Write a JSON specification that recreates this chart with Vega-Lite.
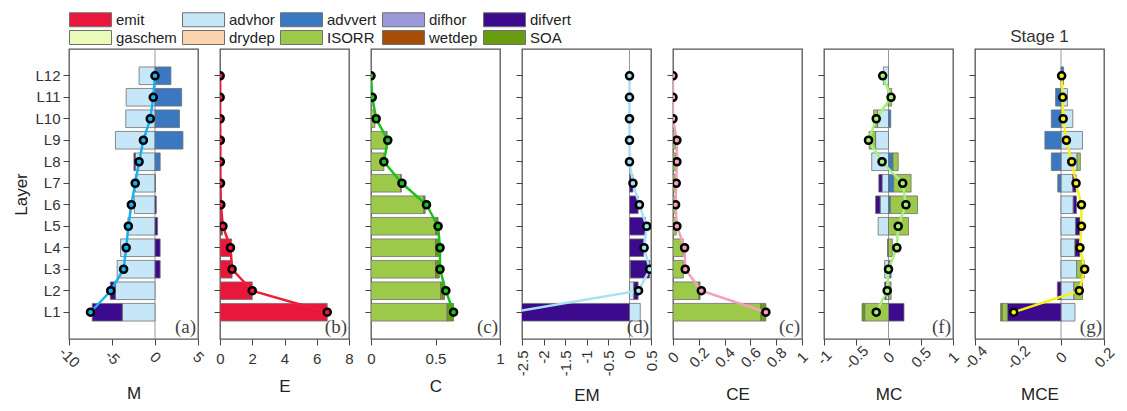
{
"$schema":"https://vega.github.io/schema/vega-lite/v6.json",
"background":"white",
"padding":{"left":12,"top":12,"right":5,"bottom":5},
"spacing":22,
"bounds":"flush",
"resolve":{"scale":{"x":"independent","y":"independent","color":"shared"}},
"config":{
 "font":"Liberation Sans",
 "view":{"stroke":"#555555","strokeWidth":1.3},
 "axis":{"labelFont":"Liberation Sans","labelFontSize":15,"labelColor":"#333333","titleFont":"Liberation Sans","titleFontSize":17,"titleFontWeight":"normal","titleColor":"#222222","tickColor":"#444444","tickSize":6,"domain":false,"grid":false,"titlePadding":12,"labelOverlap":false,"labelFlush":false},
 "legend":{"labelFont":"Liberation Sans","labelFontSize":15,"labelColor":"#222222"}
},
"datasets":{
"bars":[
{"p":"a","L":"L12","c":"advhor","v":-1.85,"o":2},{"p":"a","L":"L12","c":"advvert","v":1.85,"o":3},
{"p":"a","L":"L11","c":"advhor","v":-3.35,"o":2},{"p":"a","L":"L11","c":"advvert","v":3.1,"o":3},
{"p":"a","L":"L10","c":"advhor","v":-3.4,"o":2},{"p":"a","L":"L10","c":"advvert","v":2.85,"o":3},
{"p":"a","L":"L9","c":"advhor","v":-4.6,"o":2},{"p":"a","L":"L9","c":"advvert","v":3.25,"o":3},
{"p":"a","L":"L8","c":"advhor","v":-2.3,"o":2},{"p":"a","L":"L8","c":"advvert","v":0.6,"o":3},{"p":"a","L":"L8","c":"difvert","v":-0.15,"o":5},
{"p":"a","L":"L7","c":"advhor","v":-2.3,"o":2},{"p":"a","L":"L7","c":"advvert","v":0.05,"o":3},
{"p":"a","L":"L6","c":"advhor","v":-2.4,"o":2},{"p":"a","L":"L6","c":"difvert","v":0.15,"o":5},
{"p":"a","L":"L5","c":"advhor","v":-3.15,"o":2},{"p":"a","L":"L5","c":"difvert","v":0.3,"o":5},
{"p":"a","L":"L4","c":"advhor","v":-4.0,"o":2},{"p":"a","L":"L4","c":"difvert","v":0.6,"o":5},
{"p":"a","L":"L3","c":"advhor","v":-4.4,"o":2},{"p":"a","L":"L3","c":"difvert","v":0.6,"o":5},
{"p":"a","L":"L2","c":"advhor","v":-4.6,"o":2},{"p":"a","L":"L2","c":"difvert","v":-0.6,"o":5},
{"p":"a","L":"L1","c":"advhor","v":-3.8,"o":2},{"p":"a","L":"L1","c":"difvert","v":-3.5,"o":5},
{"p":"b","L":"L1","c":"emit","v":6.65,"o":1},{"p":"b","L":"L2","c":"emit","v":2.0,"o":1},{"p":"b","L":"L3","c":"emit","v":0.75,"o":1},{"p":"b","L":"L4","c":"emit","v":0.72,"o":1},{"p":"b","L":"L5","c":"emit","v":0.15,"o":1},{"p":"b","L":"L6","c":"emit","v":0.05,"o":1},{"p":"b","L":"L7","c":"emit","v":0.03,"o":1},{"p":"b","L":"L8","c":"emit","v":0.02,"o":1},{"p":"b","L":"L9","c":"emit","v":0.02,"o":1},{"p":"b","L":"L10","c":"emit","v":0.02,"o":1},{"p":"b","L":"L11","c":"emit","v":0.01,"o":1},{"p":"b","L":"L12","c":"emit","v":0.01,"o":1},
{"p":"c","L":"L12","c":"ISORR","v":0.003,"o":8},
{"p":"c","L":"L11","c":"ISORR","v":0.008,"o":8},
{"p":"c","L":"L10","c":"ISORR","v":0.03,"o":8},
{"p":"c","L":"L9","c":"ISORR","v":0.12,"o":8},{"p":"c","L":"L9","c":"SOA","v":0.005,"o":10},
{"p":"c","L":"L8","c":"ISORR","v":0.1,"o":8},
{"p":"c","L":"L7","c":"ISORR","v":0.23,"o":8},{"p":"c","L":"L7","c":"SOA","v":0.005,"o":10},
{"p":"c","L":"L6","c":"ISORR","v":0.41,"o":8},{"p":"c","L":"L6","c":"SOA","v":0.01,"o":10},
{"p":"c","L":"L5","c":"ISORR","v":0.5,"o":8},{"p":"c","L":"L5","c":"SOA","v":0.02,"o":10},
{"p":"c","L":"L4","c":"ISORR","v":0.5,"o":8},{"p":"c","L":"L4","c":"SOA","v":0.03,"o":10},
{"p":"c","L":"L3","c":"ISORR","v":0.5,"o":8},{"p":"c","L":"L3","c":"SOA","v":0.03,"o":10},
{"p":"c","L":"L2","c":"ISORR","v":0.54,"o":8},{"p":"c","L":"L2","c":"SOA","v":0.03,"o":10},
{"p":"c","L":"L1","c":"ISORR","v":0.59,"o":8},{"p":"c","L":"L1","c":"SOA","v":0.05,"o":10},
{"p":"d","L":"L1","c":"advhor","v":0.25,"o":2},{"p":"d","L":"L1","c":"difvert","v":-3.0,"o":5},
{"p":"d","L":"L2","c":"advhor","v":0.1,"o":2},{"p":"d","L":"L2","c":"difvert","v":0.1,"o":5},
{"p":"d","L":"L3","c":"advhor","v":0.02,"o":2},{"p":"d","L":"L3","c":"difvert","v":0.45,"o":5},
{"p":"d","L":"L4","c":"difvert","v":0.33,"o":5},
{"p":"d","L":"L5","c":"difvert","v":0.37,"o":5},
{"p":"d","L":"L6","c":"difvert","v":0.2,"o":5},
{"p":"d","L":"L7","c":"difvert","v":0.08,"o":5},
{"p":"e","L":"L1","c":"ISORR","v":0.68,"o":8},{"p":"e","L":"L1","c":"SOA","v":0.04,"o":10},
{"p":"e","L":"L2","c":"ISORR","v":0.2,"o":8},{"p":"e","L":"L2","c":"SOA","v":0.01,"o":10},
{"p":"e","L":"L3","c":"ISORR","v":0.08,"o":8},
{"p":"e","L":"L4","c":"ISORR","v":0.08,"o":8},
{"p":"e","L":"L5","c":"ISORR","v":0.025,"o":8},
{"p":"e","L":"L6","c":"ISORR","v":0.02,"o":8},
{"p":"e","L":"L7","c":"ISORR","v":0.02,"o":8},
{"p":"e","L":"L8","c":"ISORR","v":0.02,"o":8},
{"p":"e","L":"L9","c":"ISORR","v":0.02,"o":8},
{"p":"e","L":"L10","c":"ISORR","v":0.003,"o":8},
{"p":"f","L":"L12","c":"advhor","v":-0.08,"o":2},
{"p":"f","L":"L11","c":"advhor","v":-0.01,"o":2},{"p":"f","L":"L11","c":"ISORR","v":0.05,"o":8},
{"p":"f","L":"L10","c":"advhor","v":-0.17,"o":2},{"p":"f","L":"L10","c":"advvert","v":0.035,"o":3},{"p":"f","L":"L10","c":"ISORR","v":-0.06,"o":8},
{"p":"f","L":"L9","c":"advhor","v":-0.2,"o":2},{"p":"f","L":"L9","c":"ISORR","v":-0.1,"o":8},
{"p":"f","L":"L8","c":"advhor","v":-0.26,"o":2},{"p":"f","L":"L8","c":"advvert","v":0.07,"o":3},{"p":"f","L":"L8","c":"ISORR","v":0.08,"o":8},
{"p":"f","L":"L7","c":"advhor","v":-0.1,"o":2},{"p":"f","L":"L7","c":"advvert","v":0.08,"o":3},{"p":"f","L":"L7","c":"difvert","v":-0.05,"o":5},{"p":"f","L":"L7","c":"ISORR","v":0.27,"o":8},
{"p":"f","L":"L6","c":"advhor","v":-0.13,"o":2},{"p":"f","L":"L6","c":"advvert","v":0.03,"o":3},{"p":"f","L":"L6","c":"difvert","v":-0.07,"o":5},{"p":"f","L":"L6","c":"ISORR","v":0.42,"o":8},
{"p":"f","L":"L5","c":"advhor","v":-0.16,"o":2},{"p":"f","L":"L5","c":"ISORR","v":0.31,"o":8},
{"p":"f","L":"L4","c":"difvert","v":-0.015,"o":5},{"p":"f","L":"L4","c":"ISORR","v":0.06,"o":8},
{"p":"f","L":"L3","c":"advhor","v":-0.06,"o":2},{"p":"f","L":"L3","c":"advvert","v":0.04,"o":3},
{"p":"f","L":"L2","c":"advhor","v":-0.04,"o":2},{"p":"f","L":"L2","c":"difvert","v":-0.02,"o":5},{"p":"f","L":"L2","c":"ISORR","v":0.04,"o":8},
{"p":"f","L":"L1","c":"difvert","v":0.24,"o":5},{"p":"f","L":"L1","c":"ISORR","v":-0.37,"o":8},{"p":"f","L":"L1","c":"SOA","v":-0.04,"o":10},
{"p":"g","L":"L12","c":"advvert","v":0.012,"o":3},
{"p":"g","L":"L11","c":"advhor","v":0.03,"o":2},{"p":"g","L":"L11","c":"advvert","v":-0.025,"o":3},
{"p":"g","L":"L10","c":"advhor","v":0.055,"o":2},{"p":"g","L":"L10","c":"advvert","v":-0.045,"o":3},
{"p":"g","L":"L9","c":"advhor","v":0.1,"o":2},{"p":"g","L":"L9","c":"advvert","v":-0.075,"o":3},
{"p":"g","L":"L8","c":"advhor","v":0.075,"o":2},{"p":"g","L":"L8","c":"advvert","v":-0.045,"o":3},{"p":"g","L":"L8","c":"ISORR","v":0.015,"o":8},
{"p":"g","L":"L7","c":"advhor","v":0.055,"o":2},{"p":"g","L":"L7","c":"advvert","v":-0.015,"o":3},{"p":"g","L":"L7","c":"difvert","v":0.015,"o":5},
{"p":"g","L":"L6","c":"advhor","v":0.057,"o":2},{"p":"g","L":"L6","c":"difvert","v":0.015,"o":5},
{"p":"g","L":"L5","c":"advhor","v":0.068,"o":2},{"p":"g","L":"L5","c":"difvert","v":0.02,"o":5},
{"p":"g","L":"L4","c":"advhor","v":0.065,"o":2},{"p":"g","L":"L4","c":"difvert","v":0.023,"o":5},
{"p":"g","L":"L3","c":"advhor","v":0.073,"o":2},{"p":"g","L":"L3","c":"ISORR","v":0.03,"o":8},{"p":"g","L":"L3","c":"SOA","v":0.005,"o":10},
{"p":"g","L":"L2","c":"advhor","v":0.06,"o":2},{"p":"g","L":"L2","c":"difvert","v":-0.017,"o":5},{"p":"g","L":"L2","c":"ISORR","v":0.04,"o":8},
{"p":"g","L":"L1","c":"advhor","v":0.065,"o":2},{"p":"g","L":"L1","c":"difvert","v":-0.25,"o":5},{"p":"g","L":"L1","c":"ISORR","v":-0.023,"o":8},{"p":"g","L":"L1","c":"SOA","v":-0.008,"o":10}
],
"tot":[
{"p":"a","L":"L1","k":1,"v":-7.5},{"p":"a","L":"L2","k":2,"v":-5.15},{"p":"a","L":"L3","k":3,"v":-3.65},{"p":"a","L":"L4","k":4,"v":-3.35},{"p":"a","L":"L5","k":5,"v":-3.1},{"p":"a","L":"L6","k":6,"v":-2.75},{"p":"a","L":"L7","k":7,"v":-2.3},{"p":"a","L":"L8","k":8,"v":-1.85},{"p":"a","L":"L9","k":9,"v":-1.35},{"p":"a","L":"L10","k":10,"v":-0.55},{"p":"a","L":"L11","k":11,"v":-0.2},{"p":"a","L":"L12","k":12,"v":0.0},
{"p":"b","L":"L1","k":1,"v":6.65},{"p":"b","L":"L2","k":2,"v":2.0},{"p":"b","L":"L3","k":3,"v":0.75},{"p":"b","L":"L4","k":4,"v":0.65},{"p":"b","L":"L5","k":5,"v":0.18},{"p":"b","L":"L6","k":6,"v":0.05},{"p":"b","L":"L7","k":7,"v":0.03},{"p":"b","L":"L8","k":8,"v":0.02},{"p":"b","L":"L9","k":9,"v":0.02},{"p":"b","L":"L10","k":10,"v":0.01},{"p":"b","L":"L11","k":11,"v":0.01},{"p":"b","L":"L12","k":12,"v":0.01},
{"p":"c","L":"L1","k":1,"v":0.64},{"p":"c","L":"L2","k":2,"v":0.58},{"p":"c","L":"L3","k":3,"v":0.535},{"p":"c","L":"L4","k":4,"v":0.535},{"p":"c","L":"L5","k":5,"v":0.52},{"p":"c","L":"L6","k":6,"v":0.43},{"p":"c","L":"L7","k":7,"v":0.24},{"p":"c","L":"L8","k":8,"v":0.1},{"p":"c","L":"L9","k":9,"v":0.13},{"p":"c","L":"L10","k":10,"v":0.04},{"p":"c","L":"L11","k":11,"v":0.01},{"p":"c","L":"L12","k":12,"v":0.0},
{"p":"d","L":"L1","k":1,"v":-2.75},{"p":"d","L":"L2","k":2,"v":0.21},{"p":"d","L":"L3","k":3,"v":0.47},{"p":"d","L":"L4","k":4,"v":0.34},{"p":"d","L":"L5","k":5,"v":0.4},{"p":"d","L":"L6","k":6,"v":0.23},{"p":"d","L":"L7","k":7,"v":0.08},{"p":"d","L":"L8","k":8,"v":0.0},{"p":"d","L":"L9","k":9,"v":0.0},{"p":"d","L":"L10","k":10,"v":0.0},{"p":"d","L":"L11","k":11,"v":0.0},{"p":"d","L":"L12","k":12,"v":0.0},
{"p":"e","L":"L1","k":1,"v":0.72},{"p":"e","L":"L2","k":2,"v":0.22},{"p":"e","L":"L3","k":3,"v":0.095},{"p":"e","L":"L4","k":4,"v":0.09},{"p":"e","L":"L5","k":5,"v":0.03},{"p":"e","L":"L6","k":6,"v":0.02},{"p":"e","L":"L7","k":7,"v":0.025},{"p":"e","L":"L8","k":8,"v":0.03},{"p":"e","L":"L9","k":9,"v":0.03},{"p":"e","L":"L10","k":10,"v":0.0},{"p":"e","L":"L11","k":11,"v":0.0},{"p":"e","L":"L12","k":12,"v":0.0},
{"p":"f","L":"L1","k":1,"v":-0.19},{"p":"f","L":"L2","k":2,"v":-0.02},{"p":"f","L":"L3","k":3,"v":0.0},{"p":"f","L":"L4","k":4,"v":0.13},{"p":"f","L":"L5","k":5,"v":0.15},{"p":"f","L":"L6","k":6,"v":0.27},{"p":"f","L":"L7","k":7,"v":0.22},{"p":"f","L":"L8","k":8,"v":-0.1},{"p":"f","L":"L9","k":9,"v":-0.31},{"p":"f","L":"L10","k":10,"v":-0.19},{"p":"f","L":"L11","k":11,"v":0.04},{"p":"f","L":"L12","k":12,"v":-0.09},
{"p":"g","L":"L1","k":1,"v":-0.22},{"p":"g","L":"L2","k":2,"v":0.085},{"p":"g","L":"L3","k":3,"v":0.11},{"p":"g","L":"L4","k":4,"v":0.088},{"p":"g","L":"L5","k":5,"v":0.095},{"p":"g","L":"L6","k":6,"v":0.095},{"p":"g","L":"L7","k":7,"v":0.07},{"p":"g","L":"L8","k":8,"v":0.05},{"p":"g","L":"L9","k":9,"v":0.025},{"p":"g","L":"L10","k":10,"v":0.01},{"p":"g","L":"L11","k":11,"v":0.008},{"p":"g","L":"L12","k":12,"v":0.003}
]
},
"hconcat":[
{"width":129,"height":290,"layer":[
 {"data":{"values":[{}]},"mark":{"type":"rule","color":"#999999","strokeWidth":1},"encoding":{"x":{"datum":0}}},
 {"data":{"name":"bars"},"transform":[{"filter":"datum.p=='a'"}],"mark":{"type":"bar","stroke":"#707070","strokeWidth":0.8,"clip":true},
  "encoding":{
   "y":{"field":"L","type":"nominal","scale":{"domain":["L12","L11","L10","L9","L8","L7","L6","L5","L4","L3","L2","L1"],"paddingInner":0.18,"paddingOuter":0.835},"axis":{"title":"Layer","labelPadding":3,"titlePadding":4}},
   "x":{"field":"v","type":"quantitative","stack":"zero","scale":{"domain":[-10,5],"nice":false,"zero":false},"axis":{"title":"M","values":[-10,-5,0,5],"tickCount":20,"labelExpr":"''+datum.value","labelOverlap":false,"labelAngle":45,"labelAlign":"center","labelBaseline":"middle","labelPadding":12,"titlePadding":15}},
   "color":{"field":"c","type":"nominal","scale":{"domain":["emit","advhor","advvert","difhor","difvert","gaschem","drydep","ISORR","wetdep","SOA"],"range":["#E8173B","#C5E7F7","#3A78C2","#9A98D8","#3C0A8C","#EAFAB8","#FBD3AC","#9CC94A","#A64E08","#6A9C12"]},
     "legend":{"title":null,"orient":"none","legendX":0,"legendY":-37,"columns":5,"direction":"horizontal","symbolType":"M-3,-1H3V1H-3Z","symbolSize":196,"symbolOffset":14,"symbolStrokeColor":"#777777","symbolStrokeWidth":1,"symbolOpacity":1,"labelOffset":18,"columnPadding":3,"rowPadding":-1,"padding":0,"gridAlign":"each"}},
   "order":{"field":"o","type":"quantitative"}}},
 {"data":{"name":"tot"},"transform":[{"filter":"datum.p=='a'"}],"mark":{"type":"line","color":"#1AB0F0","strokeWidth":2.5,"clip":true},"encoding":{"y":{"field":"L","type":"nominal"},"x":{"field":"v","type":"quantitative"},"order":{"field":"k","type":"quantitative"}}},
 {"data":{"name":"tot"},"transform":[{"filter":"datum.p=='a'"}],"mark":{"type":"point","shape":"circle","filled":true,"fill":"#1AB0F0","stroke":"#000000","strokeWidth":2.5,"size":50,"opacity":1,"clip":true},"encoding":{"y":{"field":"L","type":"nominal"},"x":{"field":"v","type":"quantitative"}}},
 {"data":{"values":[{"t":"(a)"}]},"mark":{"type":"text","font":"Liberation Serif","fontSize":19,"color":"#444444","align":"right","baseline":"bottom","dx":-2,"y":{"expr":"height-2"}},"encoding":{"text":{"field":"t"},"x":{"datum":5}}}
]},
{"width":129,"height":290,"layer":[
 {"data":{"name":"bars"},"transform":[{"filter":"datum.p=='b'"}],"mark":{"type":"bar","stroke":"#707070","strokeWidth":0.8,"clip":true},
  "encoding":{
   "y":{"field":"L","type":"nominal","scale":{"domain":["L12","L11","L10","L9","L8","L7","L6","L5","L4","L3","L2","L1"],"paddingInner":0.18,"paddingOuter":0.835},"axis":{"title":null,"labels":false}},
   "x":{"field":"v","type":"quantitative","stack":"zero","scale":{"domain":[0,8],"nice":false,"zero":false},"axis":{"title":"E","values":[0,2,4,6,8],"tickCount":20,"labelExpr":"''+datum.value","labelOverlap":false,"labelAngle":0,"labelPadding":6}},
   "color":{"field":"c","type":"nominal"},
   "order":{"field":"o","type":"quantitative"}}},
 {"data":{"name":"tot"},"transform":[{"filter":"datum.p=='b'"}],"mark":{"type":"line","color":"#EE1C3C","strokeWidth":2.5,"clip":true},"encoding":{"y":{"field":"L","type":"nominal"},"x":{"field":"v","type":"quantitative"},"order":{"field":"k","type":"quantitative"}}},
 {"data":{"name":"tot"},"transform":[{"filter":"datum.p=='b'"}],"mark":{"type":"point","shape":"circle","filled":true,"fill":"#EE1C3C","stroke":"#000000","strokeWidth":2.5,"size":50,"opacity":1,"clip":true},"encoding":{"y":{"field":"L","type":"nominal"},"x":{"field":"v","type":"quantitative"}}},
 {"data":{"values":[{"t":"(b)"}]},"mark":{"type":"text","font":"Liberation Serif","fontSize":19,"color":"#444444","align":"right","baseline":"bottom","dx":-2,"y":{"expr":"height-2"}},"encoding":{"text":{"field":"t"},"x":{"datum":8}}}
]},
{"width":129,"height":290,"layer":[
 {"data":{"name":"bars"},"transform":[{"filter":"datum.p=='c'"}],"mark":{"type":"bar","stroke":"#707070","strokeWidth":0.8,"clip":true},
  "encoding":{
   "y":{"field":"L","type":"nominal","scale":{"domain":["L12","L11","L10","L9","L8","L7","L6","L5","L4","L3","L2","L1"],"paddingInner":0.18,"paddingOuter":0.835},"axis":{"title":null,"labels":false}},
   "x":{"field":"v","type":"quantitative","stack":"zero","scale":{"domain":[0,1],"nice":false,"zero":false},"axis":{"title":"C","values":[0,0.5,1],"tickCount":20,"labelExpr":"''+datum.value","labelOverlap":false,"labelAngle":0,"labelPadding":6}},
   "color":{"field":"c","type":"nominal"},
   "order":{"field":"o","type":"quantitative"}}},
 {"data":{"name":"tot"},"transform":[{"filter":"datum.p=='c'"}],"mark":{"type":"line","color":"#1EC01E","strokeWidth":2.5,"clip":true},"encoding":{"y":{"field":"L","type":"nominal"},"x":{"field":"v","type":"quantitative"},"order":{"field":"k","type":"quantitative"}}},
 {"data":{"name":"tot"},"transform":[{"filter":"datum.p=='c'"}],"mark":{"type":"point","shape":"circle","filled":true,"fill":"#1EC01E","stroke":"#000000","strokeWidth":2.5,"size":50,"opacity":1,"clip":true},"encoding":{"y":{"field":"L","type":"nominal"},"x":{"field":"v","type":"quantitative"}}},
 {"data":{"values":[{"t":"(c)"}]},"mark":{"type":"text","font":"Liberation Serif","fontSize":19,"color":"#444444","align":"right","baseline":"bottom","dx":-2,"y":{"expr":"height-2"}},"encoding":{"text":{"field":"t"},"x":{"datum":1}}}
]},
{"width":129,"height":290,"layer":[
 {"data":{"values":[{}]},"mark":{"type":"rule","color":"#999999","strokeWidth":1},"encoding":{"x":{"datum":0}}},
 {"data":{"name":"bars"},"transform":[{"filter":"datum.p=='d'"}],"mark":{"type":"bar","stroke":"#707070","strokeWidth":0.8,"clip":true},
  "encoding":{
   "y":{"field":"L","type":"nominal","scale":{"domain":["L12","L11","L10","L9","L8","L7","L6","L5","L4","L3","L2","L1"],"paddingInner":0.18,"paddingOuter":0.835},"axis":{"title":null,"labels":false}},
   "x":{"field":"v","type":"quantitative","stack":"zero","scale":{"domain":[-2.5,0.5],"nice":false,"zero":false},"axis":{"title":"EM","values":[-2.5,-2,-1.5,-1,-0.5,0,0.5],"tickCount":20,"labelExpr":"''+datum.value","labelOverlap":false,"labelAngle":-90,"labelPadding":5,"titlePadding":12}},
   "color":{"field":"c","type":"nominal"},
   "order":{"field":"o","type":"quantitative"}}},
 {"data":{"name":"tot"},"transform":[{"filter":"datum.p=='d'"}],"mark":{"type":"line","color":"#A5E2F5","strokeWidth":2.5,"clip":true},"encoding":{"y":{"field":"L","type":"nominal"},"x":{"field":"v","type":"quantitative"},"order":{"field":"k","type":"quantitative"}}},
 {"data":{"name":"tot"},"transform":[{"filter":"datum.p=='d'"}],"mark":{"type":"point","shape":"circle","filled":true,"fill":"#A5E2F5","stroke":"#000000","strokeWidth":2.5,"size":50,"opacity":1,"clip":true},"encoding":{"y":{"field":"L","type":"nominal"},"x":{"field":"v","type":"quantitative"}}},
 {"data":{"values":[{"t":"(d)"}]},"mark":{"type":"text","font":"Liberation Serif","fontSize":19,"color":"#444444","align":"right","baseline":"bottom","dx":-2,"y":{"expr":"height-2"}},"encoding":{"text":{"field":"t"},"x":{"datum":0.5}}}
]},
{"width":129,"height":290,"layer":[
 {"data":{"name":"bars"},"transform":[{"filter":"datum.p=='e'"}],"mark":{"type":"bar","stroke":"#707070","strokeWidth":0.8,"clip":true},
  "encoding":{
   "y":{"field":"L","type":"nominal","scale":{"domain":["L12","L11","L10","L9","L8","L7","L6","L5","L4","L3","L2","L1"],"paddingInner":0.18,"paddingOuter":0.835},"axis":{"title":null,"labels":false}},
   "x":{"field":"v","type":"quantitative","stack":"zero","scale":{"domain":[0,1],"nice":false,"zero":false},"axis":{"title":"CE","values":[0,0.2,0.4,0.6,0.8,1],"tickCount":20,"labelExpr":"''+datum.value","labelOverlap":false,"labelAngle":-45,"labelAlign":"center","labelBaseline":"middle","labelPadding":12,"titlePadding":16}},
   "color":{"field":"c","type":"nominal"},
   "order":{"field":"o","type":"quantitative"}}},
 {"data":{"name":"tot"},"transform":[{"filter":"datum.p=='e'"}],"mark":{"type":"line","color":"#F4A0B8","strokeWidth":2.5,"clip":true},"encoding":{"y":{"field":"L","type":"nominal"},"x":{"field":"v","type":"quantitative"},"order":{"field":"k","type":"quantitative"}}},
 {"data":{"name":"tot"},"transform":[{"filter":"datum.p=='e'"}],"mark":{"type":"point","shape":"circle","filled":true,"fill":"#F4A0B8","stroke":"#000000","strokeWidth":2.5,"size":50,"opacity":1,"clip":true},"encoding":{"y":{"field":"L","type":"nominal"},"x":{"field":"v","type":"quantitative"}}},
 {"data":{"values":[{"t":"(c)"}]},"mark":{"type":"text","font":"Liberation Serif","fontSize":19,"color":"#444444","align":"right","baseline":"bottom","dx":-2,"y":{"expr":"height-2"}},"encoding":{"text":{"field":"t"},"x":{"datum":1}}}
]},
{"width":129,"height":290,"layer":[
 {"data":{"values":[{}]},"mark":{"type":"rule","color":"#999999","strokeWidth":1},"encoding":{"x":{"datum":0}}},
 {"data":{"name":"bars"},"transform":[{"filter":"datum.p=='f'"}],"mark":{"type":"bar","stroke":"#707070","strokeWidth":0.8,"clip":true},
  "encoding":{
   "y":{"field":"L","type":"nominal","scale":{"domain":["L12","L11","L10","L9","L8","L7","L6","L5","L4","L3","L2","L1"],"paddingInner":0.18,"paddingOuter":0.835},"axis":{"title":null,"labels":false}},
   "x":{"field":"v","type":"quantitative","stack":"zero","scale":{"domain":[-1,1],"nice":false,"zero":false},"axis":{"title":"MC","values":[-1,-0.5,0,0.5,1],"tickCount":20,"labelExpr":"''+datum.value","labelOverlap":false,"labelAngle":-45,"labelAlign":"center","labelBaseline":"middle","labelPadding":12,"titlePadding":15}},
   "color":{"field":"c","type":"nominal"},
   "order":{"field":"o","type":"quantitative"}}},
 {"data":{"name":"tot"},"transform":[{"filter":"datum.p=='f'"}],"mark":{"type":"line","color":"#A8F07A","strokeWidth":2.5,"clip":true},"encoding":{"y":{"field":"L","type":"nominal"},"x":{"field":"v","type":"quantitative"},"order":{"field":"k","type":"quantitative"}}},
 {"data":{"name":"tot"},"transform":[{"filter":"datum.p=='f'"}],"mark":{"type":"point","shape":"circle","filled":true,"fill":"#A8F07A","stroke":"#000000","strokeWidth":2.5,"size":50,"opacity":1,"clip":true},"encoding":{"y":{"field":"L","type":"nominal"},"x":{"field":"v","type":"quantitative"}}},
 {"data":{"values":[{"t":"(f)"}]},"mark":{"type":"text","font":"Liberation Serif","fontSize":19,"color":"#444444","align":"right","baseline":"bottom","dx":-2,"y":{"expr":"height-2"}},"encoding":{"text":{"field":"t"},"x":{"datum":1}}}
]},
{"width":129,"height":290,"title":{"text":"Stage 1","fontSize":17,"fontWeight":"normal","color":"#333333","font":"Liberation Sans","offset":3},"layer":[
 {"data":{"values":[{}]},"mark":{"type":"rule","color":"#999999","strokeWidth":1},"encoding":{"x":{"datum":0}}},
 {"data":{"name":"bars"},"transform":[{"filter":"datum.p=='g'"}],"mark":{"type":"bar","stroke":"#707070","strokeWidth":0.8,"clip":true},
  "encoding":{
   "y":{"field":"L","type":"nominal","scale":{"domain":["L12","L11","L10","L9","L8","L7","L6","L5","L4","L3","L2","L1"],"paddingInner":0.18,"paddingOuter":0.835},"axis":{"title":null,"labels":false}},
   "x":{"field":"v","type":"quantitative","stack":"zero","scale":{"domain":[-0.4,0.2],"nice":false,"zero":false},"axis":{"title":"MCE","values":[-0.4,-0.2,0,0.2],"tickCount":20,"labelExpr":"''+datum.value","labelOverlap":false,"labelAngle":-45,"labelAlign":"center","labelBaseline":"middle","labelPadding":12,"titlePadding":15}},
   "color":{"field":"c","type":"nominal"},
   "order":{"field":"o","type":"quantitative"}}},
 {"data":{"name":"tot"},"transform":[{"filter":"datum.p=='g'"}],"mark":{"type":"line","color":"#F7F01A","strokeWidth":2.5,"clip":true},"encoding":{"y":{"field":"L","type":"nominal"},"x":{"field":"v","type":"quantitative"},"order":{"field":"k","type":"quantitative"}}},
 {"data":{"name":"tot"},"transform":[{"filter":"datum.p=='g'"}],"mark":{"type":"point","shape":"circle","filled":true,"fill":"#F7F01A","stroke":"#000000","strokeWidth":2.5,"size":50,"opacity":1,"clip":true},"encoding":{"y":{"field":"L","type":"nominal"},"x":{"field":"v","type":"quantitative"}}},
 {"data":{"values":[{"t":"(g)"}]},"mark":{"type":"text","font":"Liberation Serif","fontSize":19,"color":"#444444","align":"right","baseline":"bottom","dx":-2,"y":{"expr":"height-2"}},"encoding":{"text":{"field":"t"},"x":{"datum":0.2}}}
]}
]
}
